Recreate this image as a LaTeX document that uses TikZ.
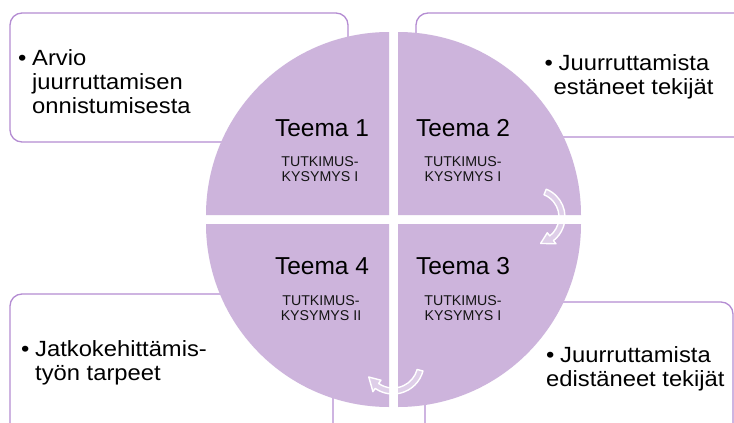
\documentclass[tikz,border=0pt]{standalone}
\usepackage{fontspec}
\setmainfont{Liberation Sans}
\newfontfamily\boxfont{Liberation Sans}[FakeStretch=1.08]
\definecolor{quad}{RGB}{205,180,220}
\definecolor{frame}{RGB}{180,140,210}
\begin{document}
\begin{tikzpicture}[x=1pt,y=-1pt,
  box/.style={draw=frame, line width=1.3pt, fill=white, rounded corners=12pt},
  quadrant/.style={fill=quad, draw=none},
  cyc/.style={draw=white, line width=1.4pt, fill=white, fill opacity=0.35, line join=round},
  boxtext/.style={anchor=base west, inner sep=0pt, align=left, font=\boxfont\fontsize{22}{24}\selectfont},
  teema/.style={anchor=base, inner sep=0pt, font=\fontsize{24.5}{28}\selectfont},
  kys/.style={anchor=base, inner sep=0pt, align=center, font=\fontsize{14.2}{14.5}\selectfont, text=black!92}]
\useasboundingbox (0,0) rectangle (734,423);
\clip (0,0) rectangle (734,423);
\fill[white] (0,0) rectangle (734,423);
% boxes
\draw[box] (10,13) rectangle (348,142);
\draw[box] (416,13) rectangle (760,137);
\draw[box] (10,294) rectangle (333,460);
\draw[box] (425,302) rectangle (733,460);
% quadrants
\fill[quadrant] (389,215) -- (206,215) arc[start angle=180, end angle=270, radius=183] -- cycle;
\fill[quadrant] (398,215) -- (398,32) arc[start angle=270, end angle=360, radius=183] -- cycle;
\fill[quadrant] (398,224) -- (581,224) arc[start angle=0, end angle=90, radius=183] -- cycle;
\fill[quadrant] (389,224) -- (389,407) arc[start angle=90, end angle=180, radius=183] -- cycle;
% cycle arrows
\draw[cyc] ([shift={(535,217)}]-68:30) arc[start angle=-68, end angle=52, radius=30]
  -- ([shift={(535,217)}]52:34) -- ([shift={(535,217)}]78:27) -- ([shift={(535,217)}]52:20)
  -- ([shift={(535,217)}]52:24) arc[start angle=52, end angle=-68, radius=24] -- cycle;
\draw[cyc] ([shift={(393,363)}]15:31) arc[start angle=15, end angle=125, radius=31]
  -- ([shift={(393,363)}]125:35) -- ([shift={(393,363)}]150:28) -- ([shift={(393,363)}]125:21)
  -- ([shift={(393,363)}]125:25) arc[start angle=125, end angle=15, radius=25] -- cycle;
% box texts (anchor = baseline of last line)
\node[boxtext] (tl) at (18,113) {\makebox[14pt][l]{•}Arvio\\\hspace*{14pt}juurruttamisen\\\hspace*{14pt}onnistumisesta};
\node[boxtext] (tr) at (544.5,94) {\makebox[14pt][l]{•}Juurruttamista\\\hspace*{9pt}estäneet tekijät};
\node[boxtext] (bl) at (21,380) {\makebox[14pt][l]{•}Jatkokehittämis-\\\hspace*{14pt}työn tarpeet};
\node[boxtext] (br) at (546,386) {\makebox[14pt][l]{•}Juurruttamista\\edistäneet tekijät};
% quadrant texts
\node[teema] (t1) at (322,136) {Teema 1};
\node[kys] (k1) at (320,181) {TUTKIMUS-\\KYSYMYS I};
\node[teema] (t2) at (463,136) {Teema 2};
\node[kys] (k2) at (463,181) {TUTKIMUS-\\KYSYMYS I};
\node[teema] (t3) at (463,274) {Teema 3};
\node[kys] (k3) at (463,320) {TUTKIMUS-\\KYSYMYS I};
\node[teema] (t4) at (322,274) {Teema 4};
\node[kys] (k4) at (321,320) {TUTKIMUS-\\KYSYMYS II};
\end{tikzpicture}
\end{document}
